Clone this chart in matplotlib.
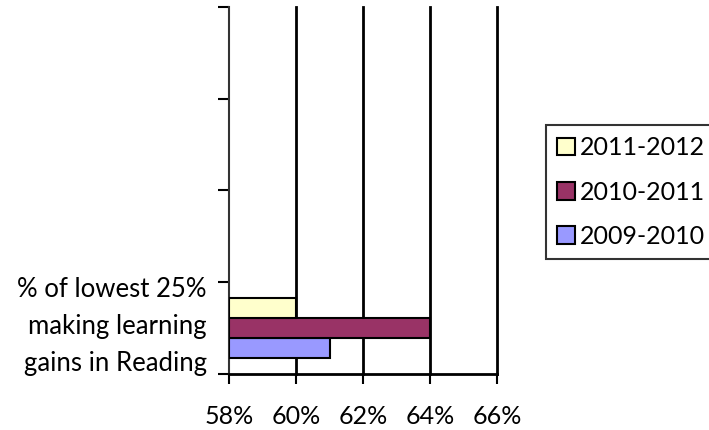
import matplotlib
matplotlib.use("Agg")
import matplotlib.pyplot as plt
from matplotlib.patches import Patch
from matplotlib.ticker import FuncFormatter

plt.rcParams['font.family'] = ['Lato', 'DejaVu Sans']

category = "% of lowest 25%\nmaking learning\ngains in Reading"
years = ["2009-2010", "2010-2011", "2011-2012"]
values = [61, 64, 60]
colors = ["#9999FF", "#993366", "#FFFFCC"]
x_ticks = [58, 60, 62, 64, 66]

fig = plt.figure(figsize=(7.09, 4.30), dpi=100)
ax = fig.add_axes([229 / 709, 1 - 374 / 430, 268 / 709, 367 / 430])

bar_h = 0.22
offsets = [-bar_h, 0, bar_h]
for yr, v, c, off in zip(years, values, colors, offsets):
    ax.barh(0 + off, v - 58, left=58, height=bar_h, color=c,
            edgecolor="black", linewidth=1.5, zorder=3)

ax.set_xlim(58, 66)
ax.set_ylim(-0.5, 3.5)
ax.set_xticks(x_ticks)
ax.xaxis.set_major_formatter(FuncFormatter(lambda v, p: f"{v:.0f}%"))
ax.tick_params(axis="x", length=7, width=1.5, direction="out", labelsize=18, pad=15)

# slot boundaries as major ticks, category label as minor tick
ax.set_yticks([-0.5, 0.5, 1.5, 2.5, 3.5])
ax.set_yticklabels([])
ax.tick_params(axis="y", which="major", length=8, width=1.5, direction="out")
ax.set_yticks([0.11], minor=True)
ax.set_yticklabels([category], minor=True, fontsize=18.5, linespacing=1.6)
ax.tick_params(axis="y", which="minor", length=0, pad=16)

for x in x_ticks[1:]:
    ax.axvline(x, color="black", linewidth=2, zorder=1, clip_on=False)

ax.spines["top"].set_visible(False)
ax.spines["right"].set_visible(False)
ax.spines["left"].set_linewidth(1.5)
ax.spines["left"].set_color("#333333")
ax.spines["bottom"].set_linewidth(2)

handles = [Patch(facecolor=c, edgecolor="black", linewidth=1.5, label=y)
           for y, c in zip(years, colors)]
handles = handles[::-1]
leg = fig.legend(handles=handles, loc="upper left",
                 bbox_to_anchor=(546 / 709, 1 - 125 / 430),
                 bbox_transform=fig.transFigure, borderaxespad=0,
                 fontsize=18, frameon=True, fancybox=False,
                 handlelength=0.7, handleheight=0.7, handletextpad=0.2,
                 labelspacing=0.85, borderpad=0.45)
leg.get_frame().set_edgecolor("black")
leg.get_frame().set_linewidth(1.5)

fig.savefig("out.png", dpi=100)
